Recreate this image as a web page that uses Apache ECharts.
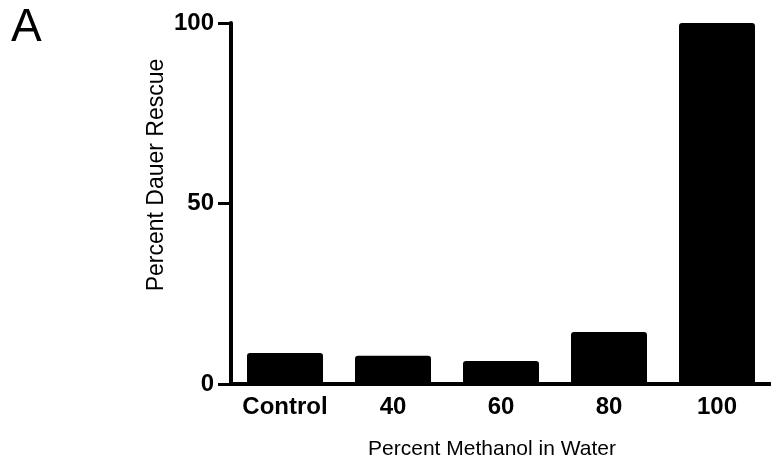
<!DOCTYPE html>
<html><head><meta charset="utf-8">
<script src="https://cdn.jsdelivr.net/npm/echarts@6/dist/echarts.min.js"></script>
<style>html,body{margin:0;padding:0;background:#fff}#c{width:771px;height:471px}</style>
</head><body><div id="c"></div>
<script>
const categories = ["Control", "40", "60", "80", "100"];
const rescue = [8.6, 7.8, 6.4, 14.4, 100];
const yTicks = [0, 50, 100];

const chart = echarts.init(document.getElementById('c'), null, {renderer: 'canvas'});
chart.setOption({
  animation: false,
  backgroundColor: '#fff',
  graphic: [
    {type: 'text', left: 11, top: 5, style: {text: 'A', font: '46px "Liberation Sans", Arial, sans-serif', fill: '#000'}},
    {type: 'text', x: 157, y: 175, rotation: Math.PI / 2,
      style: {text: 'Percent Dauer Rescue', font: '23px "Liberation Sans", Arial, sans-serif', fill: '#000', align: 'center', verticalAlign: 'middle'}}
  ],
  grid: {left: 231, right: -3, top: 23, bottom: 87},
  xAxis: {
    type: 'category', data: categories,
    name: 'Percent Methanol in Water', nameLocation: 'middle', nameGap: 55,
    nameTextStyle: {fontFamily: 'Liberation Sans', fontSize: 21, color: '#000', padding: [0, 18, 0, 0]},
    axisLine: {lineStyle: {color: '#000', width: 4}},
    axisTick: {alignWithLabel: true, interval: 0, length: 7, lineStyle: {color: '#000', width: 3}},
    axisLabel: {interval: 0, hideOverlap: false, fontFamily: 'Liberation Sans', fontWeight: 'bold', fontSize: 24, color: '#000', margin: 11}
  },
  yAxis: {
    type: 'value', min: 0, max: 100, interval: 50,
    axisLine: {show: true, lineStyle: {color: '#000', width: 4}},
    axisTick: {show: true, length: 13, lineStyle: {color: '#000', width: 3}},
    axisLabel: {fontFamily: 'Liberation Sans', fontWeight: 'bold', fontSize: 24, color: '#000', margin: 17,
      formatter: v => yTicks.includes(v) ? String(v) : ''},
    splitLine: {show: false}
  },
  series: [{
    type: 'bar', data: rescue, barWidth: 76,
    itemStyle: {color: '#000', borderRadius: [3, 3, 0, 0]}
  }]
});
</script></body></html>
